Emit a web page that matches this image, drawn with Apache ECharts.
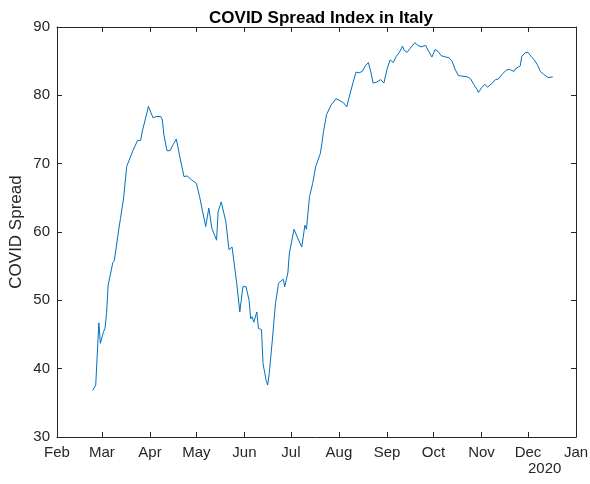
<!DOCTYPE html>
<html>
<head>
<meta charset="utf-8">
<script src="https://cdn.jsdelivr.net/npm/echarts@6/dist/echarts.min.js"></script>
<style>
  html, body { margin: 0; padding: 0; background: #fff; }
  #chart { width: 590px; height: 484px; }
</style>
</head>
<body>
<div id="chart"></div>
<script>
const dates = [
  '2020-02-24', '2020-02-26', '2020-02-28', '2020-02-29',
  '2020-03-02', '2020-03-03', '2020-03-04', '2020-03-05', '2020-03-06', '2020-03-08', '2020-03-09', '2020-03-12', '2020-03-13', '2020-03-15', '2020-03-17', '2020-03-18', '2020-03-21', '2020-03-22', '2020-03-24', '2020-03-26', '2020-03-27', '2020-03-30', '2020-03-31',
  '2020-04-01', '2020-04-03', '2020-04-05', '2020-04-08', '2020-04-09', '2020-04-10', '2020-04-12', '2020-04-14', '2020-04-16', '2020-04-18', '2020-04-19', '2020-04-20', '2020-04-23', '2020-04-25', '2020-04-28',
  '2020-05-01', '2020-05-03', '2020-05-07', '2020-05-09', '2020-05-11', '2020-05-12', '2020-05-14', '2020-05-15', '2020-05-17', '2020-05-20', '2020-05-22', '2020-05-24', '2020-05-27', '2020-05-29', '2020-05-31',
  '2020-06-02', '2020-06-04', '2020-06-05', '2020-06-06', '2020-06-07', '2020-06-09', '2020-06-10', '2020-06-12', '2020-06-13', '2020-06-15', '2020-06-16', '2020-06-17', '2020-06-19', '2020-06-21', '2020-06-23', '2020-06-24', '2020-06-26', '2020-06-27', '2020-06-29', '2020-06-30',
  '2020-07-03', '2020-07-05', '2020-07-06', '2020-07-08', '2020-07-10', '2020-07-11', '2020-07-13', '2020-07-15', '2020-07-17', '2020-07-18', '2020-07-20', '2020-07-21', '2020-07-22', '2020-07-24', '2020-07-25', '2020-07-27', '2020-07-30',
  '2020-08-01', '2020-08-02', '2020-08-04', '2020-08-06', '2020-08-08', '2020-08-10', '2020-08-12', '2020-08-14', '2020-08-16', '2020-08-18', '2020-08-20', '2020-08-22', '2020-08-23', '2020-08-25', '2020-08-28', '2020-08-30',
  '2020-09-01', '2020-09-03', '2020-09-05', '2020-09-07', '2020-09-09', '2020-09-11', '2020-09-12', '2020-09-14', '2020-09-16', '2020-09-19', '2020-09-21', '2020-09-23', '2020-09-26', '2020-09-28', '2020-09-30',
  '2020-10-02', '2020-10-04', '2020-10-06', '2020-10-09', '2020-10-11', '2020-10-13', '2020-10-15', '2020-10-17', '2020-10-20', '2020-10-23', '2020-10-25', '2020-10-27', '2020-10-29', '2020-10-30',
  '2020-11-01', '2020-11-03', '2020-11-05', '2020-11-08', '2020-11-10', '2020-11-12', '2020-11-14', '2020-11-17', '2020-11-19', '2020-11-22', '2020-11-23', '2020-11-26', '2020-11-27', '2020-11-29',
  '2020-12-01', '2020-12-03', '2020-12-05', '2020-12-07', '2020-12-09', '2020-12-11', '2020-12-14', '2020-12-15', '2020-12-17'
];

const spread = [
  36.8, 37.6, 46.7, 43.7,
  45.4, 45.9, 48.1, 52.2, 52.2, 55.5, 55.8, 60.6, 62, 65, 69.6, 69.8, 71.9, 72.1, 73.4, 73.4, 74.7, 77.4, 78.4,
  78.3, 76.7, 76.9, 76.9, 76.4, 74.2, 71.9, 71.9, 72.8, 73.6, 72.5, 71.3, 68.1, 68.2, 67.6,
  67.1, 65.2, 60.8, 63.5, 60.5, 60.3, 58.8, 63, 64.4, 61.5, 57.4, 57.8, 52.5, 48.3, 52,
  52, 50, 47.3, 47.6, 46.8, 48.3, 45.9, 45.7, 40.7, 38.3, 37.6, 39.3, 44.2, 49.5, 52.5, 52.7, 53.1, 52, 54, 56.9,
  60.4, 59.3, 59.1, 57.8, 61, 60.4, 65.2, 67.1, 69.6, 69.7, 71.5, 73, 74.7, 77.2, 77.1, 78.6, 79.5,
  79.3, 79.5, 78.9, 78.3, 80.1, 81.8, 83.4, 83.3, 83.5, 84.3, 84.8, 83, 81.8, 81.9, 82.3, 81.8,
  83.8, 85.2, 84.8, 85.7, 86.3, 87.2, 86.6, 86.3, 86.9, 87.7, 87.3, 87.1, 87.3, 86.4, 85.6,
  86.7, 86.4, 85.8, 85.6, 85.5, 85, 83.8, 82.9, 82.8, 82.7, 82.4, 81.6, 80.9, 80.4,
  81.1, 81.6, 81.2, 81.8, 82.3, 82.4, 83, 83.7, 83.8, 83.5, 83.9, 84.3, 85.7, 86.2,
  86.3, 85.7, 85.2, 84.5, 83.5, 83.1, 82.6, 82.8, 82.7
];

const monthTicks = [
  '2020-02-01', '2020-03-01', '2020-04-01', '2020-05-01', '2020-06-01', '2020-07-01',
  '2020-08-01', '2020-09-01', '2020-10-01', '2020-11-01', '2020-12-01', '2021-01-01'
];
const monthLabels = ['Feb', 'Mar', 'Apr', 'May', 'Jun', 'Jul', 'Aug', 'Sep', 'Oct', 'Nov', 'Dec', 'Jan'];

const toTime = (s) => {
  const [y, m, d] = s.split('-').map(Number);
  return Date.UTC(y, m - 1, d);
};

const tickTimes = monthTicks.map(toTime);
const points = dates.map((d, i) => [toTime(d), spread[i]]);

const FONT = 'Liberation Sans, Arial, Helvetica, sans-serif';
const INK = '#262626';

const chart = echarts.init(document.getElementById('chart'));

// dates go on a plain value axis (ms timestamps) so month ticks can be placed exactly
const xBase = {
  type: 'value',
  min: tickTimes[0],
  max: tickTimes[tickTimes.length - 1],
  splitLine: { show: false },
  axisLine: { show: true, onZero: false, lineStyle: { color: INK, width: 1 } },
  axisTick: { show: true, inside: true, length: 5, customValues: tickTimes, lineStyle: { color: INK } }
};

const yBase = {
  type: 'value',
  min: 30,
  max: 90,
  interval: 10,
  splitLine: { show: false },
  axisLine: { show: true, onZero: false, lineStyle: { color: INK, width: 1 } },
  axisTick: { show: true, inside: true, length: 5, lineStyle: { color: INK } }
};

chart.setOption({
  animation: false,
  backgroundColor: '#fff',
  title: {
    text: 'COVID Spread Index in Italy',
    left: 316,
    textAlign: 'center',
    top: 5,
    textStyle: { fontFamily: FONT, fontSize: 17, fontWeight: 'bold', color: '#000' }
  },
  grid: { left: 57, right: 14, top: 27, bottom: 47, outerBoundsMode: 'none', containLabel: false },
  xAxis: [
    {
      ...xBase,
      position: 'bottom',
      axisLabel: {
        customValues: tickTimes,
        color: INK,
        fontFamily: FONT,
        fontSize: 15,
        margin: 8,
        formatter: (v) => {
          const i = tickTimes.indexOf(v);
          return i >= 0 ? monthLabels[i] : '';
        }
      }
    },
    {
      ...xBase,
      position: 'top',
      axisLabel: { show: false }
    }
  ],
  yAxis: [
    {
      ...yBase,
      position: 'left',
      name: 'COVID Spread',
      nameLocation: 'middle',
      nameGap: 32,
      nameMoveOverlap: false,
      nameTextStyle: { fontFamily: FONT, fontSize: 17, color: INK },
      axisLabel: { color: INK, fontFamily: FONT, fontSize: 15, margin: 7 }
    },
    {
      ...yBase,
      position: 'right',
      axisLabel: { show: false }
    }
  ],
  graphic: [
    {
      type: 'text',
      left: 528,
      top: 461,
      style: { text: '2020', fill: INK, font: `15px ${FONT}` }
    }
  ],
  series: [
    {
      name: 'COVID Spread',
      type: 'line',
      data: points,
      showSymbol: false,
      lineStyle: { color: '#0072BD', width: 1 },
      emphasis: { disabled: true }
    }
  ]
});
</script>
</body>
</html>
